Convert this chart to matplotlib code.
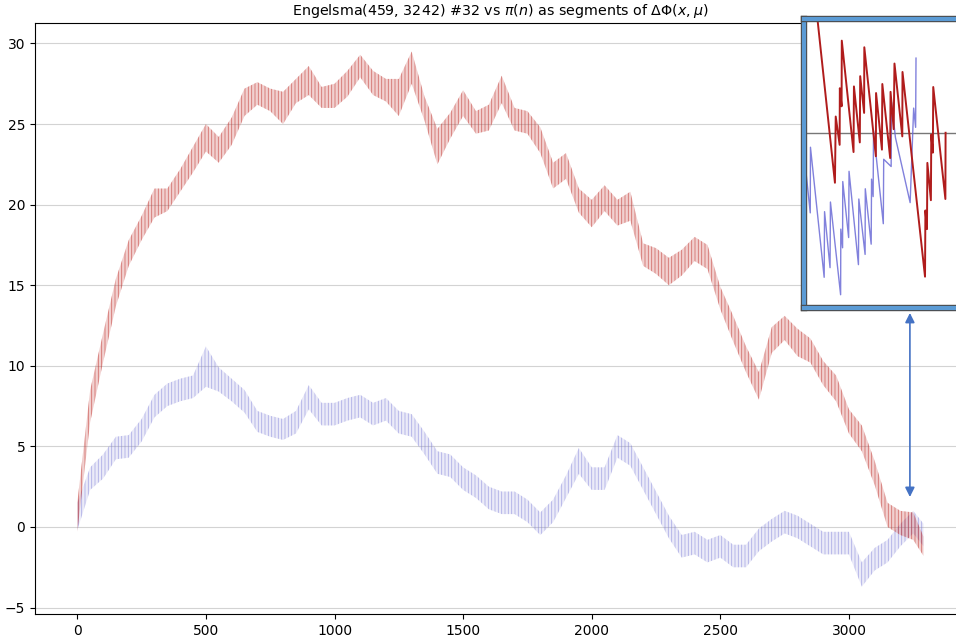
import numpy as np
import matplotlib
matplotlib.use("Agg")
import matplotlib.pyplot as plt
import matplotlib.patheffects as pe
from matplotlib.colors import to_rgba

# sample positions along n (every 50 steps)
sample_x = [*range(0, 3300, 50), 3290]

# Engelsma #32 band (lower / upper edge of the jagged trace)
red_lo = [-0.3, 6.5, 10.2, 13.7, 16.2, 17.8, 19.2, 19.6, 20.8, 22.0,
          23.3, 22.6, 23.7, 25.5, 26.2, 25.8, 25.0, 26.3, 26.8, 26.0,
          26.0, 26.7, 27.9, 26.8, 26.4, 25.5, 27.5, 25.2, 22.5, 24.1,
          25.5, 24.4, 24.6, 26.3, 24.6, 24.4, 23.2, 21.0, 21.6, 19.5,
          18.6, 19.6, 18.7, 19.0, 16.2, 15.7, 15.0, 15.6, 16.5, 16.0,
          13.5, 11.5, 9.6, 7.9, 10.8, 11.6, 10.6, 10.2, 8.8, 7.8,
          5.8, 4.7, 2.6, 0.0, -0.5, -0.8, -1.8]
red_hi = [1.5, 8.5, 12.0, 15.4, 17.8, 19.3, 21.0, 21.0, 22.2, 23.6,
          25.0, 24.2, 25.4, 27.2, 27.6, 27.2, 27.0, 27.8, 28.6, 27.3,
          27.5, 28.3, 29.3, 28.3, 27.8, 27.8, 29.5, 26.7, 24.7, 25.7,
          27.1, 25.8, 26.2, 28.0, 26.0, 25.8, 24.8, 22.6, 23.2, 21.0,
          20.3, 21.2, 20.3, 20.8, 17.6, 17.3, 16.7, 17.2, 18.0, 17.5,
          14.9, 13.1, 11.2, 9.6, 12.4, 13.1, 12.3, 11.7, 10.3, 9.4,
          7.3, 6.3, 4.1, 1.5, 1.0, 0.9, -0.6]

# pi(n) band
blue_lo = [-0.2, 2.3, 3.0, 4.2, 4.3, 5.3, 6.8, 7.5, 7.8, 8.0,
           8.7, 8.4, 7.8, 7.1, 5.9, 5.6, 5.4, 5.8, 7.3, 6.3,
           6.3, 6.6, 6.8, 6.3, 6.6, 5.8, 5.6, 4.5, 3.3, 3.1,
           2.3, 1.8, 1.1, 0.8, 0.8, 0.3, -0.5, 0.3, 1.8, 3.3,
           2.3, 2.3, 4.3, 3.8, 2.3, 0.8, -0.7, -1.9, -1.7, -2.2,
           -1.9, -2.5, -2.5, -1.5, -0.9, -0.4, -0.7, -1.2, -1.7, -1.7,
           -1.7, -3.7, -2.7, -2.2, -1.2, -0.4, -1.2]
blue_hi = [1.5, 3.7, 4.5, 5.6, 5.7, 6.7, 8.2, 8.9, 9.2, 9.4,
           11.2, 9.9, 9.2, 8.5, 7.2, 6.9, 6.7, 7.2, 8.8, 7.7,
           7.7, 8.0, 8.2, 7.7, 8.0, 7.2, 7.0, 5.9, 4.7, 4.5,
           3.7, 3.2, 2.5, 2.2, 2.2, 1.7, 0.9, 1.7, 3.2, 4.9,
           3.7, 3.7, 5.7, 5.2, 3.7, 2.2, 0.7, -0.5, -0.3, -0.8,
           -0.5, -1.1, -1.1, -0.1, 0.5, 1.0, 0.7, 0.2, -0.3, -0.3,
           -0.3, -2.2, -1.3, -0.8, 0.2, 1.0, 0.2]

# close-up shown in the inset
ins_red_x = [3157.0, 3165.8, 3166.2, 3168.2, 3168.3, 3169.2, 3169.3, 3175.3,
             3175.5, 3178.5, 3178.7, 3180.7, 3180.8, 3186.7, 3186.8, 3189.8,
             3190.0, 3194.0, 3194.2, 3195.8, 3196.2, 3200.2, 3200.3, 3211.8,
             3212.0, 3212.8, 3213.0, 3214.8, 3215.0, 3215.8, 3216.0, 3222.2,
             3222.3]
ins_red_y = [1.86, -0.82, 0.28, -0.19, 0.75, 0.45, 1.54, -0.31,
             0.78, -0.15, 0.95, 0.34, 1.43, -0.38, 0.67, -0.27,
             0.82, -0.41, 0.69, 0.07, 1.16, -0.05, 1.02, -2.38,
             -1.28, -1.59, -0.49, -1.11, -0.02, -0.32, 0.77, -1.09,
             0.01]
ins_blue_x = [3150.0, 3153.2, 3153.3, 3160.3, 3160.5, 3163.3, 3163.5, 3168.7,
              3168.8, 3169.7, 3169.8, 3172.8, 3173.0, 3177.8, 3178.0, 3181.2,
              3181.3, 3184.3, 3184.5, 3185.3, 3185.5, 3190.5, 3190.7, 3194.5,
              3194.7, 3196.7, 3204.2, 3206.0, 3207.0, 3207.2]
ins_blue_y = [-0.33, -1.32, -0.23, -2.39, -1.30, -2.23, -1.14, -2.68,
              -1.59, -1.90, -0.80, -1.73, -0.63, -2.18, -1.09, -2.01,
              -0.92, -1.84, -0.76, -1.05, 0.04, -1.50, -0.43, -0.55,
              0.52, -0.07, -1.15, 0.42, 0.10, 1.25]

RED = "#c0302b"
BLUE = "#7b7bd6"
plt.rcParams["hatch.linewidth"] = 0.6

fig = plt.figure(figsize=(9.56, 6.37), dpi=100)
ax = fig.add_axes([0.0366, 0.0361, 0.9737, 0.9278])

# jagged traces drawn as a band of fine vertical strokes
ax.fill_between(sample_x, blue_lo, blue_hi, facecolor=to_rgba(BLUE, 0.15),
                edgecolor=to_rgba(BLUE, 0.55), hatch="|||||", lw=0)
ax.fill_between(sample_x, red_lo, red_hi, facecolor=to_rgba(RED, 0.22),
                edgecolor=to_rgba(RED, 0.6), hatch="|||||", lw=0)

ax.set_xlim(-164.5, 3454.5)
ax.set_ylim(-5.4, 31.27)
ax.set_xticks([0, 500, 1000, 1500, 2000, 2500, 3000])
ax.set_yticks([-5, 0, 5, 10, 15, 20, 25, 30])
ax.grid(axis="y", color="#d3d3d3", lw=0.8)
ax.set_axisbelow(True)
ax.set_title(r"Engelsma(459, 3242) #32 vs $\pi(n)$ as segments of $\Delta\Phi(x,\mu)$",
             fontsize=10.3)

# arrow linking the close-up to the main trace
ax.annotate("", xy=(3237, 1.86), xytext=(3237, 13.28),
            arrowprops=dict(arrowstyle="<|-|>", color="#4472c4", lw=1.2,
                            mutation_scale=14, shrinkA=0, shrinkB=0))

# inset close-up
ins = fig.add_axes([0.841, 0.5165, 0.1946, 0.4537])
ins.axhline(0, color="#777777", lw=1)
ins.plot(ins_blue_x, ins_blue_y, color="#6b6bd6", lw=1.0, alpha=0.85)
ins.plot(ins_red_x, ins_red_y, color="#b01c1c", lw=1.4)
ins.set_xlim(3150, 3245)
ins.set_ylim(-2.9, 1.9)
ins.set_xticks([])
ins.set_yticks([])
for sp in ins.spines.values():
    sp.set_color("#5b9bd5")
    sp.set_linewidth(3)
    sp.set_path_effects([pe.Stroke(linewidth=4.6, foreground="#4a4a4a"), pe.Normal()])

fig.savefig("out.png", dpi=100)
